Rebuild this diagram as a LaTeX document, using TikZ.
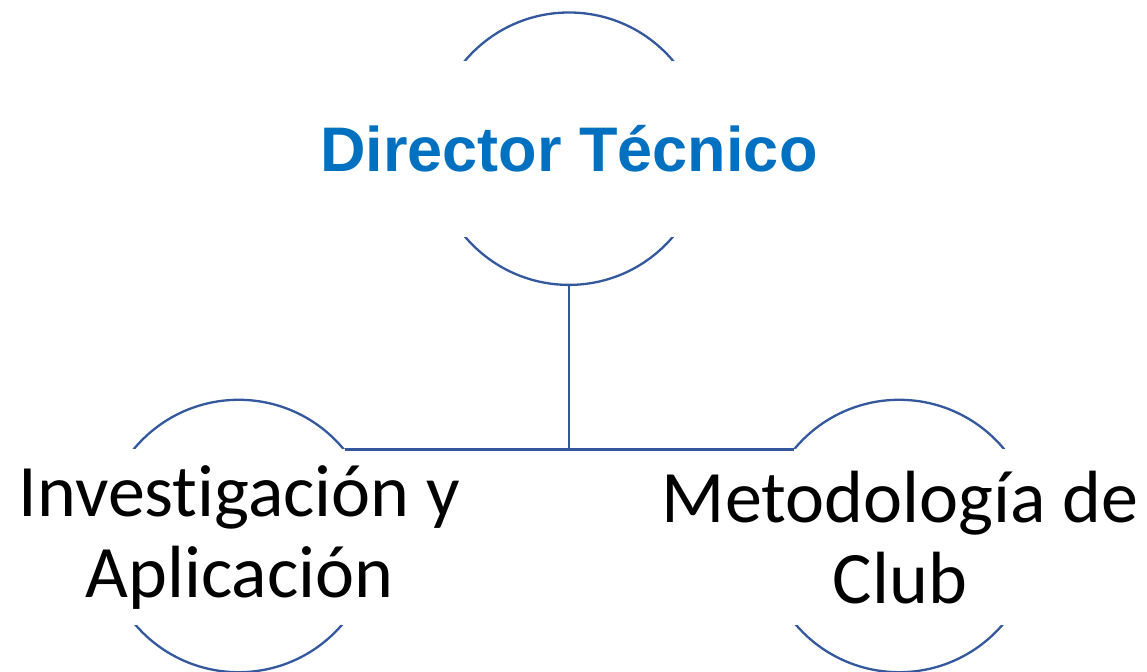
\documentclass[tikz,border=0pt]{standalone}
\usepackage{fontspec}
\setmainfont[Ligatures=CommonOff]{Carlito}
\newfontfamily\titlefont{Liberation Sans}
\usepackage{tikz}
\usetikzlibrary{positioning}
\definecolor{ringblue}{RGB}{52,88,157}
\definecolor{titleblue}{RGB}{0,112,192}
\tikzset{
        % Circles behind the labels
        node_ring/.style={circle, draw=ringblue, line width=1.15pt, minimum size=136.2pt, inner sep=0pt},
        % White bands that carry the text
        node_label/.style={rectangle, fill=white, align=center, inner sep=0pt, minimum height=88pt, minimum width=150pt},
        % Title text
        node_title/.style={node_label, text=titleblue, font=\titlefont\bfseries\fontsize{31.5}{38}\selectfont},
        % Unit text
        node_unit/.style={node_label, text=black, font=\fontsize{37}{40.5}\selectfont},
        % Connectors
        link/.style={draw=ringblue, line width=1.15pt}
}
\begin{document}
\begin{tikzpicture}[x=0.5pt, y=-0.5pt]
            \useasboundingbox (0,0) rectangle (1147,672);
            % rings
            \node[node_ring] (director) at (569,148.7) {};
            \node[node_ring] (investigacion) at (238.7,536) {};
            \node[node_ring] (metodologia) at (899.2,536) {};
            % labels
            \node[node_title] (director_label) at (director) {Director Técnico};
            \node[node_unit] (investigacion_label) at (239.5,537.2) {Investigación y\\Aplicación};
            \node[node_unit] (metodologia_label) at (900,537.2) {Metodología de\\Club};
            % connectors
            \coordinate (fork) at (director.south |- investigacion.39.6);
            \draw[link] (director) -- (fork);
            \draw[link] (investigacion.39.6) -- (fork) -- (metodologia.140.4 |- fork);
        \end{tikzpicture}
\end{document}
